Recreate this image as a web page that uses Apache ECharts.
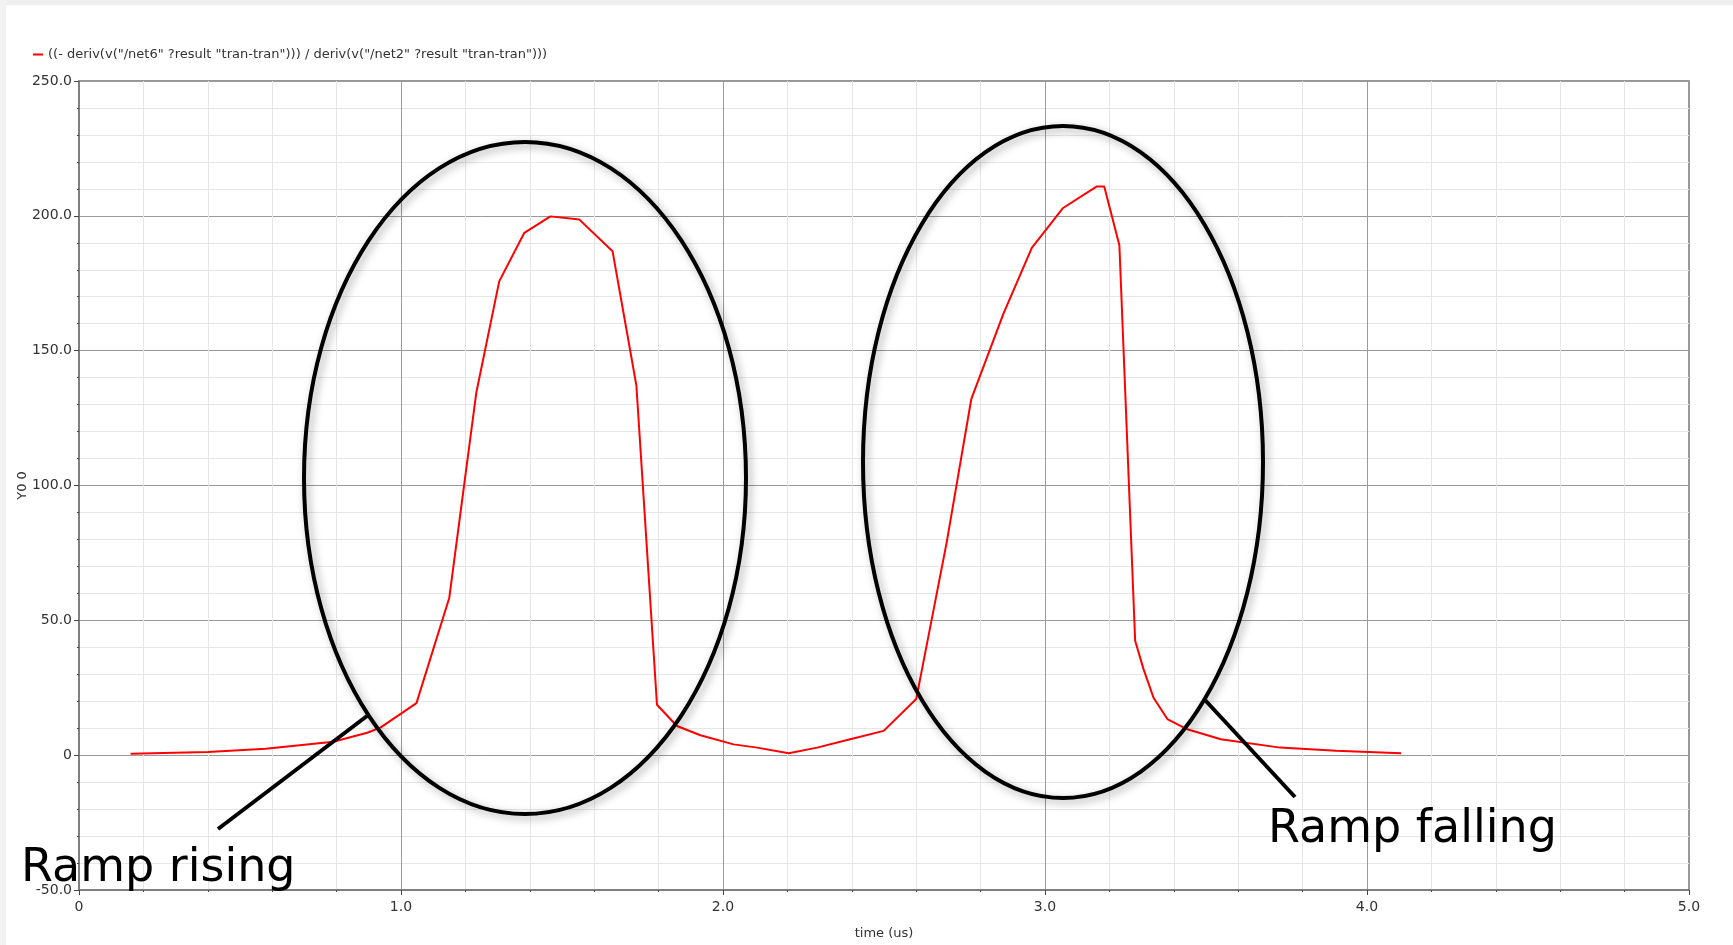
<!DOCTYPE html>
<html>
<head>
<meta charset="utf-8">
<script src="https://cdn.jsdelivr.net/npm/echarts@6/dist/echarts.min.js"></script>
<style>
  html, body { margin: 0; padding: 0; background: #fff; }
  #main { width: 1733px; height: 945px; }
</style>
</head>
<body>
<div id="main"></div>
<script>
// time (us) and the ratio
var timeUs = [0.16, 0.40, 0.58, 0.79, 0.895, 0.936, 1.048, 1.150, 1.234, 1.305, 1.383, 1.464, 1.554, 1.657,
  1.731, 1.795, 1.857, 1.930, 2.033, 2.106, 2.204, 2.292, 2.395, 2.499, 2.600, 2.695, 2.771, 2.871, 2.959,
  3.055, 3.161, 3.184, 3.231, 3.280, 3.306, 3.337, 3.380, 3.442, 3.546, 3.730, 3.904, 4.106];
var ratio = [0.5, 1.2, 2.4, 5.0, 8.3, 10.2, 19.3, 58.4, 134.5, 175.7, 193.7, 199.8, 198.6, 186.9,
  137.1, 18.7, 10.8, 7.4, 4.0, 2.8, 0.7, 2.8, 5.9, 9.0, 20.8, 79.1, 132.0, 163.7, 188.1,
  202.8, 210.9, 210.9, 189.1, 42.4, 31.9, 21.3, 13.4, 9.6, 5.9, 2.8, 1.6, 0.7];
var seriesName = '((- deriv(v("/net6" ?result "tran-tran"))) / deriv(v("/net2" ?result "tran-tran")))';
var xTicks = [0, 1, 2, 3, 4, 5];
var yTicks = [-50, 0, 50, 100, 150, 200, 250];

var chart = echarts.init(document.getElementById('main'));

var pairs = timeUs.map(function (t, i) { return [t, ratio[i]]; });

function fmt(v) {
  return v === 0 ? '0' : v.toFixed(1);
}

var axisCommon = {
  axisLine: { show: true, onZero: false, lineStyle: { color: '#777', width: 1.5 } },
  axisTick: { show: true, inside: false, length: 5, lineStyle: { color: '#444' } },
  minorTick: { show: true, splitNumber: 5, length: 2, lineStyle: { color: '#444' } },
  splitLine: { show: true, lineStyle: { color: '#9a9a9a', width: 1 } },
  minorSplitLine: { show: true, lineStyle: { color: '#e6e6e6', width: 1 } },
  axisLabel: { color: '#333', fontSize: 14, fontFamily: 'DejaVu Sans', formatter: fmt },
  nameTextStyle: { color: '#333', fontSize: 13, fontFamily: 'DejaVu Sans' }
};

var option = {
  backgroundColor: '#fff',
  animation: false,
  grid: { left: 79, right: 44, top: 81, bottom: 49, show: true, borderColor: '#777', borderWidth: 1.5 },
  legend: {
    data: [seriesName],
    left: 28, top: 43,
    icon: 'rect', itemWidth: 10, itemHeight: 2, itemGap: 10,
    textStyle: { color: '#333', fontSize: 13, fontFamily: 'DejaVu Sans' }
  },
  xAxis: Object.assign({}, axisCommon, {
    type: 'value', min: xTicks[0], max: xTicks[xTicks.length - 1], interval: 1,
    name: 'time (us)', nameLocation: 'middle', nameGap: 37,
    axisLabel: Object.assign({}, axisCommon.axisLabel, { margin: 10 })
  }),
  yAxis: Object.assign({}, axisCommon, {
    type: 'value', min: yTicks[0], max: yTicks[yTicks.length - 1], interval: 50,
    name: 'Y0 0', nameLocation: 'middle', nameGap: 50, nameMoveOverlap: false,
    axisLabel: Object.assign({}, axisCommon.axisLabel, { margin: 7 })
  }),
  series: [{
    name: seriesName,
    type: 'line',
    data: pairs,
    showSymbol: false,
    symbol: 'none',
    lineStyle: { color: '#ff0000', width: 2 },
    itemStyle: { color: '#ff0000' },
    z: 3
  }],
  graphic: [
    // window frame strips
    { type: 'rect', left: 0, top: 0, shape: { width: 1733, height: 5 }, style: { fill: '#efefef' }, silent: true },
    { type: 'rect', left: 0, top: 0, shape: { width: 6, height: 945 }, style: { fill: '#f2f2f2' }, silent: true },
    // hand-drawn annotations
    {
      type: 'ellipse', shape: { cx: 525, cy: 478, rx: 221, ry: 336 }, z: 10,
      style: { fill: 'none', stroke: '#000', lineWidth: 4, shadowBlur: 8, shadowColor: 'rgba(0,0,0,0.35)', shadowOffsetX: 3, shadowOffsetY: 3 }
    },
    {
      type: 'ellipse', shape: { cx: 1063, cy: 462, rx: 200, ry: 336 }, z: 10,
      style: { fill: 'none', stroke: '#000', lineWidth: 4, shadowBlur: 8, shadowColor: 'rgba(0,0,0,0.35)', shadowOffsetX: 3, shadowOffsetY: 3 }
    },
    { type: 'line', shape: { x1: 218, y1: 829, x2: 367, y2: 716 }, z: 10, style: { stroke: '#000', lineWidth: 4 } },
    { type: 'line', shape: { x1: 1205, y1: 700, x2: 1295, y2: 797 }, z: 10, style: { stroke: '#000', lineWidth: 4 } },
    {
      type: 'text', left: 21, top: 846, z: 10,
      style: { text: 'Ramp rising', fill: '#000', font: '46px "DejaVu Sans"' }
    },
    {
      type: 'text', left: 1268, top: 807, z: 10,
      style: { text: 'Ramp falling', fill: '#000', font: '46px "DejaVu Sans"' }
    }
  ]
};

chart.setOption(option);
</script>
</body>
</html>
